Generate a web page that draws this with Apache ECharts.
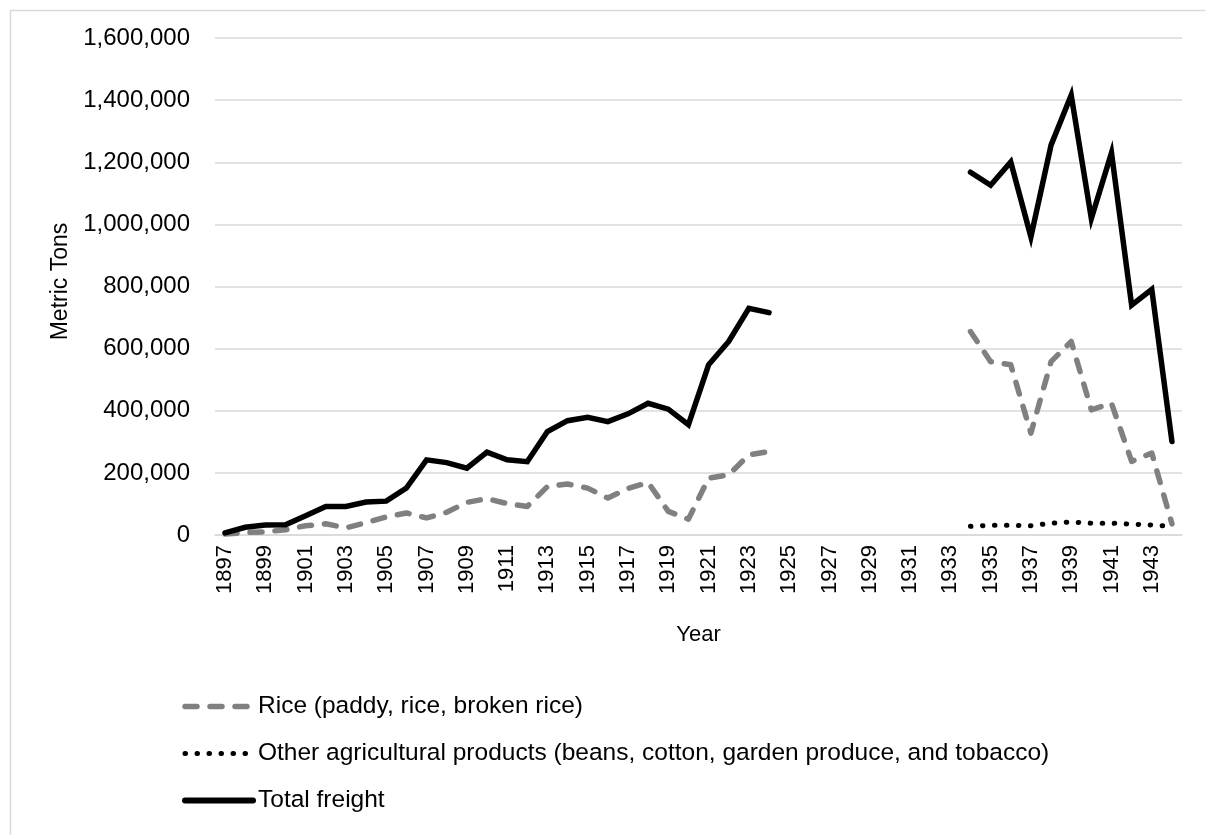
<!DOCTYPE html>
<html>
<head>
<meta charset="utf-8">
<script src="https://cdn.jsdelivr.net/npm/echarts@6/dist/echarts.min.js"></script>
<style>
  html, body { margin: 0; padding: 0; background: #fff; }
  #chart { width: 1205px; height: 835px; }
</style>
</head>
<body>
<div id="chart"></div>
<script>
// Rail freight by commodity, 1897–1944 (metric tons); null = no data
const years = [];
for (let y = 1897; y <= 1944; y++) years.push(String(y));

const riceTons = [
  3000, 8000, 10000, 17000, 30000, 36000, 23000, 40000, 58000, 71000,
  55000, 73000, 105000, 117000, 101000, 92000, 156000, 164000, 151000, 119000,
  150000, 169000, 76000, 51000, 183000, 194000, 258000, 269000,
  null, null, null, null, null, null, null, null, null,
  655000, 558000, 548000, 328000, 558000, 623000, 403000, 424000, 237000, 264000, 36000
];

const otherAgriTons = [
  null, null, null, null, null, null, null, null, null, null,
  null, null, null, null, null, null, null, null, null, null,
  null, null, null, null, null, null, null, null,
  null, null, null, null, null, null, null, null, null,
  28000, 31000, 31000, 30000, 38000, 42000, 38000, 38000, 35000, 32000, 28000
];

const totalFreightTons = [
  7000, 25000, 32000, 33000, 62000, 92000, 92000, 106000, 109000, 151000,
  242000, 233000, 215000, 267000, 242000, 236000, 333000, 368000, 379000, 365000,
  390000, 424000, 405000, 355000, 548000, 623000, 730000, 716000,
  null, null, null, null, null, null, null, null, null,
  1168000, 1126000, 1201000, 960000, 1255000, 1416000, 1019000, 1230000, 740000, 791000, 301000
];

const seriesNames = [
  'Rice (paddy, rice, broken rice)',
  'Other agricultural products (beans, cotton, garden produce, and tobacco)',
  'Total freight'
];

// line styles shared by series and their legend keys
const riceLine = { color: '#808080', width: 5.5, type: [12, 13], cap: 'round', join: 'round' };
const otherLine = { color: '#000000', width: 5, type: [0.5, 11.5], cap: 'round', join: 'round' };
const totalLine = { color: '#000000', width: 5.5, type: 'solid', cap: 'round', join: 'miter' };

const FONT = '"Liberation Sans", Arial, sans-serif';
const chart = echarts.init(document.getElementById('chart'), null, { renderer: 'canvas' });

chart.setOption({
  backgroundColor: '#ffffff',
  animation: false,
  textStyle: { fontFamily: FONT, color: '#000' },
  graphic: [{
    type: 'rect',
    left: 8, top: 8,
    shape: { width: 1300, height: 900 },
    style: { fill: 'none', stroke: '#d9d9d9', lineWidth: 1.5 },
    silent: true
  }],
  grid: { left: 215, right: 23, top: 38, bottom: 300, containLabel: false },
  legend: {
    orient: 'vertical',
    left: 177,
    top: 688,
    itemWidth: 68,
    itemHeight: 14,
    itemGap: 20,
    itemStyle: { opacity: 0 },
    textStyle: { fontFamily: FONT, fontSize: 24.5, color: '#000', lineHeight: 27 },
    data: [
      { name: seriesNames[0], lineStyle: riceLine },
      { name: seriesNames[1], lineStyle: otherLine },
      { name: seriesNames[2], lineStyle: Object.assign({}, totalLine, { width: 6 }) }
    ]
  },
  xAxis: {
    type: 'category',
    data: years,
    boundaryGap: true,
    name: 'Year',
    nameLocation: 'middle',
    nameGap: 89,
    nameTextStyle: { fontFamily: FONT, fontSize: 22, color: '#000' },
    axisLine: { show: true, lineStyle: { color: '#d9d9d9', width: 1.5 } },
    axisTick: { show: false },
    axisLabel: {
      interval: 1,
      rotate: 90,
      margin: 10,
      fontFamily: FONT,
      fontSize: 22,
      color: '#000'
    }
  },
  yAxis: {
    type: 'value',
    min: 0,
    max: 1600000,
    interval: 200000,
    name: 'Metric Tons',
    nameLocation: 'middle',
    nameGap: 143,
    nameTextStyle: { fontFamily: FONT, fontSize: 23, color: '#000', padding: [0, 0, 0, 10] },
    axisLine: { show: false },
    axisTick: { show: false },
    splitLine: { lineStyle: { color: '#d9d9d9', width: 1.5 } },
    axisLabel: {
      margin: 25,
      fontFamily: FONT,
      fontSize: 24,
      color: '#000',
      formatter: v => v.toLocaleString('en-US')
    }
  },
  series: [
    {
      name: seriesNames[0],
      type: 'line',
      data: riceTons,
      symbol: 'none',
      connectNulls: false,
      color: '#808080',
      lineStyle: riceLine,
      z: 2
    },
    {
      name: seriesNames[1],
      type: 'line',
      data: otherAgriTons,
      symbol: 'none',
      connectNulls: false,
      color: '#000000',
      lineStyle: otherLine,
      z: 3
    },
    {
      name: seriesNames[2],
      type: 'line',
      data: totalFreightTons,
      symbol: 'none',
      connectNulls: false,
      color: '#000000',
      lineStyle: totalLine,
      z: 4
    }
  ]
});
</script>
</body>
</html>
